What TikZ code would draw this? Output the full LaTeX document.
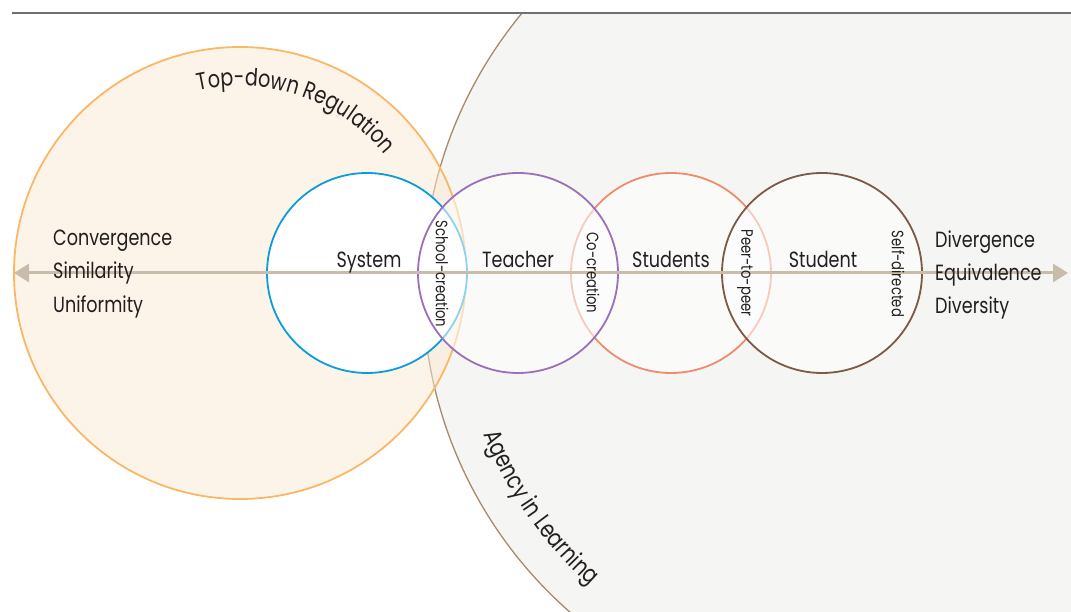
\documentclass[tikz,border=0pt]{standalone}
\usepackage{fontspec}
\usetikzlibrary{decorations.text,arrows.meta}
\newfontfamily\labfont[FakeStretch=0.8]{Poppins}
\definecolor{ink}{HTML}{231F20}
\definecolor{sysblue}{HTML}{0B9DDA}
\definecolor{teachpurple}{HTML}{9A70B8}
\definecolor{studsalmon}{HTML}{F08A70}
\definecolor{studbrown}{HTML}{7B5A46}
\definecolor{agencybrown}{HTML}{A8896C}
\definecolor{agencyfill}{HTML}{F5F5F3}
\definecolor{regorange}{HTML}{FAB766}
\definecolor{regfill}{HTML}{FBE9D3}
\definecolor{axiscol}{HTML}{C8BDAA}
\definecolor{rulecol}{HTML}{707070}
\begin{document}
\begin{tikzpicture}[x=1pt,y=1pt,
  smallcircle/.style={circle,minimum size=200pt,inner sep=0pt,line width=1.8pt},
  mainlabel/.style={font=\labfont\fontsize{22}{26}\selectfont,text=ink,inner sep=0pt},
  sidelabel/.style={font=\labfont\fontsize{22}{26}\selectfont,text=ink,inner sep=0pt,anchor=base west},
  lenslabel/.style={font=\labfont\fontsize{16.5}{20}\selectfont,text=ink,inner sep=0pt,rotate=-90}]
\useasboundingbox (0,0) rectangle (1071,612);
% big circles
\begin{scope}
  \clip (0,0) rectangle (1071,599);
  \node[circle,minimum size=862pt,inner sep=0pt,fill=agencyfill,draw=agencybrown,line width=1.3pt] (agency) at (854,324) {};
\end{scope}
\node[circle,minimum size=452pt,inner sep=0pt,fill=regfill,fill opacity=0.5,draw=regorange,line width=1.8pt] (regulation) at (240,339) {};
% top rule
\coordinate (tl) at (12,599);
\coordinate (tr) at (1071,599);
\draw[rulecol,line width=1.4pt] (tl) -- (tr);
% small circles
\node[smallcircle,fill=white,draw=sysblue] (system) at (367,339) {};
\node[smallcircle,fill=white,fill opacity=0.55,draw=studsalmon] (students) at (671,339) {};
\node[smallcircle,fill=white,fill opacity=0.55,draw=teachpurple] (teacher) at (518,339) {};
\node[smallcircle,fill=white,fill opacity=0.55,draw=studbrown] (student) at (822,339) {};
% axis
\coordinate (axl) at (14,339);
\coordinate (axr) at (1068,339);
\draw[axiscol,line width=3pt,{Triangle[length=15pt,width=18pt]}-{Triangle[length=15pt,width=18pt]}] (axl) -- (axr);
% circle labels
\node[mainlabel,anchor=base] (lsystem) at (369,344) {System};
\node[mainlabel,anchor=base] (lteacher) at (518,344) {Teacher};
\node[mainlabel,anchor=base] (lstudents) at (671,344) {Students};
\node[mainlabel,anchor=base] (lstudent) at (823,344) {Student};
% lens labels
\node[lenslabel] (lschool) at (442,338) {School-creation};
\node[lenslabel] (lco) at (593,339) {Co-creation};
\node[lenslabel] (lpeer) at (745,339) {Peer-to-peer};
\node[lenslabel] (lself) at (898,338) {Self-directed};
% side labels
\node[sidelabel] (lconv) at (53,366) {Convergence};
\node[sidelabel] (lsim) at (53,333) {Similarity};
\node[sidelabel] (lunif) at (53,299) {Uniformity};
\node[sidelabel] (ldiv) at (935,364) {Divergence};
\node[sidelabel] (lequiv) at (935,331) {Equivalence};
\node[sidelabel] (ldivers) at (935,298) {Diversity};
% arc labels
\path[decorate,decoration={text along path,text align=center,
  text={|\labfont\fontsize{24}{28}\selectfont\color{ink}|Top-down Regulation}}]
  (240,339) ++(113:187) arc[start angle=113,end angle=29,radius=187];
\path[decorate,decoration={text along path,text align=center,
  text={|\labfont\fontsize{24.5}{28}\selectfont\color{ink}|Agency in Learning}}]
  (854,324) ++(189:398) arc[start angle=189,end angle=241,radius=398];
\end{tikzpicture}
\end{document}
